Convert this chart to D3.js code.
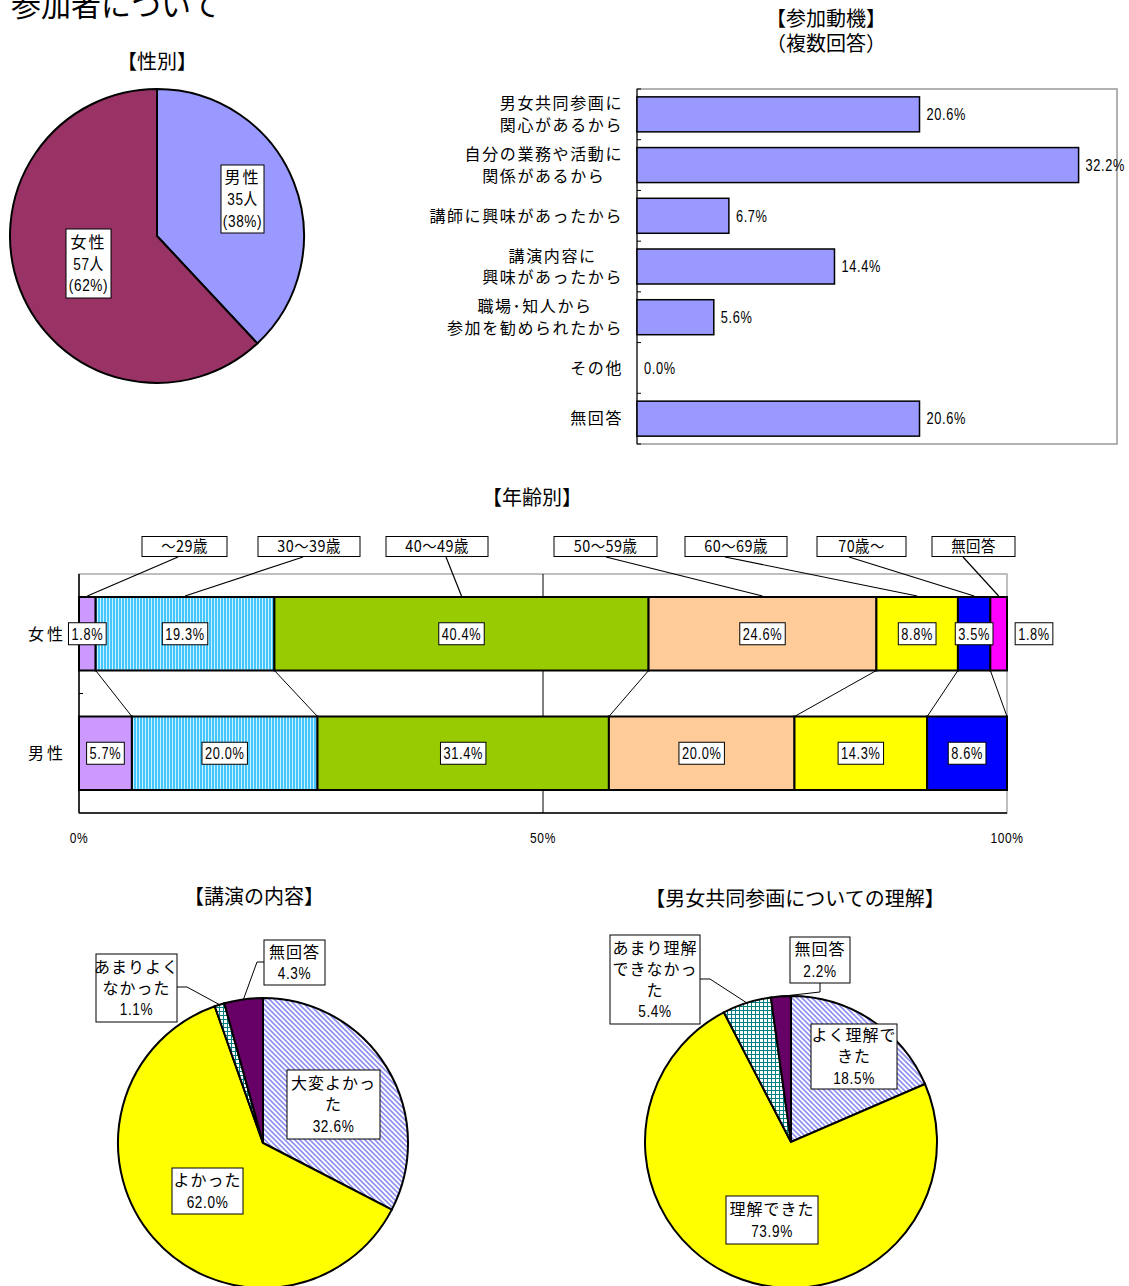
<!DOCTYPE html>
<html>
<head>
<meta charset="utf-8">
<script src="https://cdn.jsdelivr.net/npm/d3@7"></script>
<style>
    body { margin: 0; background: #fff; }
    svg text { font-family: "Noto Sans CJK JP", sans-serif; fill: #000; }
    svg text.num { font-family: "Liberation Sans", "Noto Sans CJK JP", sans-serif; }
</style>
</head>
<body>
<div id="chart"></div>
<script>

// ---- data ----
const genderLabels = ["男性", "女性"];
const genderCounts = [35, 57];
const genderPct = [38, 62];

const motiveCats = ["男女共同参画に\n関心があるから", "自分の業務や活動に\n関係があるから", "講師に興味があったから",
    "講演内容に\n興味があったから", "職場･知人から\n参加を勧められたから", "その他", "無回答"];
const motiveVals = [20.6, 32.2, 6.7, 14.4, 5.6, 0.0, 20.6];

const ageGroups = ["～29歳", "30～39歳", "40～49歳", "50～59歳", "60～69歳", "70歳～", "無回答"];
const ageRows = ["女性", "男性"];
const ageFemale = [1.8, 19.3, 40.4, 24.6, 8.8, 3.5, 1.8];
const ageMale = [5.7, 20.0, 31.4, 20.0, 14.3, 8.6, 0];
const ageTicks = [0, 50, 100];

const lectureCats = ["大変よかった", "よかった", "あまりよくなかった", "無回答"];
const lectureVals = [32.6, 62.0, 1.1, 4.3];

const understandCats = ["よく理解できた", "理解できた", "あまり理解できなかった", "無回答"];
const understandVals = [18.5, 73.9, 5.4, 2.2];

// ---- svg ----
const W = 1129, H = 1286;
const NARROW = 0.8;
const svg = d3.select("#chart").append("svg")
    .attr("width", W)
    .attr("height", H);

const defs = svg.append("defs");

// diagonal stripes (大変よかった etc)
let p = defs.append("pattern").attr("id", "diag")
    .attr("patternUnits", "userSpaceOnUse").attr("width", 5).attr("height", 5);
p.append("rect").attr("width", 5).attr("height", 5).attr("fill", "#fff");
p.append("path").attr("d", "M-1,4 l2,2 M0,0 l5,5 M4,-1 l2,2")
    .attr("stroke", "#8f8ff0").attr("stroke-width", 1.6);

// vertical stripes (30～39歳)
p = defs.append("pattern").attr("id", "vstripe")
    .attr("patternUnits", "userSpaceOnUse").attr("width", 3).attr("height", 4);
p.append("rect").attr("width", 3).attr("height", 4).attr("fill", "#45c6ff");
p.append("rect").attr("x", 1).attr("width", 1).attr("height", 4).attr("fill", "#c8f2ff");

// teal grid (あまり...)
p = defs.append("pattern").attr("id", "grid")
    .attr("patternUnits", "userSpaceOnUse").attr("width", 4).attr("height", 4);
p.append("rect").attr("width", 4).attr("height", 4).attr("fill", "#fff");
p.append("path").attr("d", "M0,0.5 H4 M0.5,0 V4").attr("stroke", "#008080").attr("stroke-width", 1);

// narrow text for numbers (the original font has tall thin digits)
function numText(g, x, y, txt, fs, anchor) {
    return g.append("text").attr("class", "num")
        .attr("transform", `translate(${x},${y}) scale(${NARROW},1)`)
        .attr("dy", "0.36em")
        .attr("text-anchor", anchor || "middle")
        .style("font-size", fs + "px")
        .style("letter-spacing", "0.8px")
        .text(txt);
}

// helper: boxed multi-line label, one text per line
function labelBox(g, cx, cy, lines, o) {
    const fs = o.fs || 16, lh = o.lh || 21;
    const grp = g.append("g");
    const rect = grp.append("rect");
    let wMax = 0;
    lines.forEach((l, i) => {
        const ly = cy + (i - (lines.length - 1) / 2) * lh;
        let t;
        if (/^[\d(]/.test(l)) {
            t = numText(grp, cx, ly, l, fs + 1);
            wMax = Math.max(wMax, t.node().getComputedTextLength() * NARROW);
        } else {
            t = grp.append("text")
                .attr("x", cx).attr("y", ly).attr("dy", "0.36em")
                .attr("text-anchor", "middle")
                .style("font-size", fs + "px")
                .style("letter-spacing", (o.ls || 0) + "px")
                .text(l);
            wMax = Math.max(wMax, t.node().getComputedTextLength());
        }
    });
    const w = o.w || wMax + 6, h = o.h || lines.length * lh + 2;
    rect.attr("x", cx - w / 2).attr("y", cy - h / 2)
        .attr("width", w).attr("height", h)
        .attr("fill", "#fff").attr("stroke", "#000").attr("stroke-width", 1);
}

function title(x, y, txt, fs) {
    svg.append("text")
        .attr("x", x).attr("y", y)
        .attr("text-anchor", "middle")
        .style("font-size", (fs || 20) + "px")
        .text(txt);
}

// page heading (cut off at top)
svg.append("text")
    .attr("x", 11).attr("y", 16)
    .style("font-size", "30px")
    .text("参加者について");

// ---- 性別 pie ----
title(157, 69, "【性別】");
{
    const cx = 157, cy = 236, r = 147;
    const g = svg.append("g").attr("transform", `translate(${cx},${cy})`);
    const arcs = d3.pie().sort(null)(genderCounts);
    const arc = d3.arc().innerRadius(0).outerRadius(r);
    const fills = ["#9999ff", "#993366"];
    g.selectAll("path").data(arcs).enter().append("path")
        .attr("d", arc)
        .attr("fill", (d, i) => fills[i])
        .attr("stroke", "#000").attr("stroke-width", 2);

    const boxes = [{x: 242.5, y: 199, w: 43, h: 68}, {x: 88.5, y: 263.5, w: 45, h: 69}];
    genderLabels.forEach((lab, i) => {
        labelBox(svg, boxes[i].x, boxes[i].y,
            [lab, genderCounts[i] + "人", "(" + genderPct[i] + "%)"],
            {fs: 16, lh: 21.5, w: boxes[i].w, h: boxes[i].h, ls: 2});
    });
}

// ---- 参加動機 bar ----
title(826, 26, "【参加動機】");
title(826, 51, "（複数回答）");
{
    const left = 637, right = 1117, top = 89, bottom = 444;
    const x = d3.scaleLinear().domain([0, 35]).range([left, right]);
    const y = d3.scaleBand().domain(motiveCats).range([top, bottom])
        .paddingInner(0.31).paddingOuter(0.155);

    svg.append("rect")
        .attr("x", left).attr("y", top)
        .attr("width", right - left).attr("height", bottom - top)
        .attr("fill", "none").attr("stroke", "#999").attr("stroke-width", 1.5);
    svg.append("line")
        .attr("x1", left).attr("x2", left).attr("y1", top).attr("y2", bottom)
        .attr("stroke", "#000").attr("stroke-width", 1);
    // ticks at category boundaries
    d3.range(motiveCats.length + 1).forEach(i => {
        const ty = top + i * y.step();
        svg.append("line")
            .attr("x1", left).attr("x2", left + 4).attr("y1", ty).attr("y2", ty)
            .attr("stroke", "#000");
    });

    svg.selectAll(".mbar").data(motiveVals.map((v, i) => ({c: motiveCats[i], v: v})).filter(d => d.v > 0))
        .enter().append("rect").attr("class", "mbar")
        .attr("x", x(0))
        .attr("y", d => y(d.c))
        .attr("width", d => x(d.v) - x(0))
        .attr("height", y.bandwidth())
        .attr("fill", "#9999ff")
        .attr("stroke", "#000").attr("stroke-width", 1.5);

    motiveCats.forEach((c, i) => {
        const cy = y(c) + y.bandwidth() / 2;
        numText(svg, x(motiveVals[i]) + 7, cy, motiveVals[i].toFixed(1) + "%", 16, "start");

        const lines = c.split("\n");
        const t = svg.append("text")
            .attr("text-anchor", "middle")
            .style("font-size", "16px").style("letter-spacing", "1.6px");
        lines.forEach((l, k) => {
            t.append("tspan").attr("y", cy + (k - (lines.length - 1) / 2) * 21.5)
                .attr("dy", "0.36em").text(l);
        });
        const wMax = d3.max(t.selectAll("tspan").nodes(), n => n.getComputedTextLength());
        t.selectAll("tspan").attr("x", 623 - wMax / 2);
    });
}

// ---- 年齢別 stacked bar ----
title(532, 505, "【年齢別】");
{
    const left = 79, right = 1007, top = 574, bottom = 813;
    const x = d3.scaleLinear().domain([0, 100]).range([left, right]);
    const y = d3.scaleBand().domain(ageRows).range([top, bottom])
        .paddingInner(0.385).paddingOuter(0.1925);
    const fills = ["#cc99ff", "url(#vstripe)", "#99cc00", "#ffcc99", "#ffff00", "#0000ff", "#ff00ff"];

    svg.append("rect")
        .attr("x", left).attr("y", top)
        .attr("width", right - left).attr("height", bottom - top)
        .attr("fill", "none").attr("stroke", "#aaa").attr("stroke-width", 1.5);
    svg.append("line").attr("x1", x(50)).attr("x2", x(50)).attr("y1", top).attr("y2", bottom)
        .attr("stroke", "#000").attr("stroke-width", 1);
    svg.append("line").attr("x1", left).attr("x2", left).attr("y1", top).attr("y2", bottom)
        .attr("stroke", "#000").attr("stroke-width", 1.5);
    svg.append("line").attr("x1", left).attr("x2", right).attr("y1", bottom).attr("y2", bottom)
        .attr("stroke", "#000").attr("stroke-width", 1.5);
    const midY = (y("女性") + y.bandwidth() + y("男性")) / 2;
    svg.append("line").attr("x1", left).attr("x2", left + 4)
        .attr("y1", midY).attr("y2", midY)
        .attr("stroke", "#000");

    ageTicks.forEach(t => {
        numText(svg, x(t), 838, t + "%", 15);
    });

    const rows = [ageFemale, ageMale].map((vals, r) => {
        const tot = d3.sum(vals);
        let acc = 0;
        return vals.map((v, i) => {
            const s = {row: ageRows[r], i: i, v: v, x0: acc / tot * 100};
            acc += v;
            s.x1 = acc / tot * 100;
            return s;
        });
    });

    // series lines between the two bars
    for (let i = 0; i < ageGroups.length - 1; i++) {
        svg.append("line")
            .attr("x1", x(rows[0][i].x1)).attr("y1", y("女性") + y.bandwidth())
            .attr("x2", x(rows[1][i].x1)).attr("y2", y("男性"))
            .attr("stroke", "#000").attr("stroke-width", 1);
    }

    rows.forEach(row => {
        svg.selectAll(null).data(row.filter(d => d.v > 0)).enter().append("rect")
            .attr("x", d => x(d.x0))
            .attr("y", d => y(d.row))
            .attr("width", d => x(d.x1) - x(d.x0))
            .attr("height", y.bandwidth())
            .attr("fill", d => fills[d.i])
            .attr("stroke", "#000").attr("stroke-width", 2);
    });

    rows.forEach(row => {
        row.filter(d => d.v > 0).forEach(d => {
            let cx = x((d.x0 + d.x1) / 2);
            if (d.row === "女性" && d.i === ageGroups.length - 1) cx = x(100) + 27;
            labelBox(svg, cx, y(d.row) + y.bandwidth() / 2, [d.v.toFixed(1) + "%"],
                {fs: 15, h: 22});
        });
    });

    // callout boxes above
    const boxX = [184.5, 309, 437, 605.5, 736, 861.5, 973.5];
    const boxW = [85, 102, 102, 103, 102, 89, 83];
    const leadX = [178, 303, 446, 606, 725, 849, 963];
    ageGroups.forEach((gName, i) => {
        const seg = rows[0][i];
        svg.append("line")
            .attr("x1", leadX[i]).attr("y1", 557)
            .attr("x2", x((seg.x0 + seg.x1) / 2)).attr("y2", y("女性") - 1)
            .attr("stroke", "#000").attr("stroke-width", 1.2);
        svg.append("rect")
            .attr("x", boxX[i] - boxW[i] / 2).attr("y", 536.5)
            .attr("width", boxW[i]).attr("height", 20)
            .attr("fill", "#fff").attr("stroke", "#000");
        svg.append("text")
            .attr("transform", `translate(${boxX[i]},546.5) scale(0.9,1)`)
            .attr("dy", "0.36em").attr("text-anchor", "middle")
            .style("font-size", "16px").style("letter-spacing", "0.5px")
            .text(gName);
    });

    ageRows.forEach(rn => {
        svg.append("text")
            .attr("x", 47).attr("y", y(rn) + y.bandwidth() / 2).attr("dy", "0.36em")
            .attr("text-anchor", "middle")
            .style("font-size", "16px").style("letter-spacing", "3px")
            .text(rn);
    });
}

// ---- bottom pies ----
const pieFills = ["url(#diag)", "#ffff00", "url(#grid)", "#660066"];

function drawPie(cx, cy, r, vals, labels) {
    const g = svg.append("g").attr("transform", `translate(${cx},${cy})`);
    const arcs = d3.pie().sort(null)(vals);
    const arc = d3.arc().innerRadius(0).outerRadius(r);
    g.selectAll("path").data(arcs).enter().append("path")
        .attr("d", arc)
        .attr("fill", (d, i) => pieFills[i])
        .attr("stroke", "#000").attr("stroke-width", 2);

    labels.forEach((lb, i) => {
        if (lb.lead) {
            const a = (arcs[i].startAngle + arcs[i].endAngle) / 2;
            const ex = cx + r * Math.sin(a), ey = cy - r * Math.cos(a);
            svg.append("polyline")
                .attr("points", lb.lead.map(pt => pt.join(",")).join(" ") + " " + ex + "," + ey)
                .attr("fill", "none").attr("stroke", "#000").attr("stroke-width", 1);
        }
        labelBox(svg, lb.x, lb.y, lb.lines.concat([vals[i].toFixed(1) + "%"]),
            {fs: 16, lh: 21, w: lb.w, h: lb.h, ls: 1});
    });
}

title(254, 904, "【講演の内容】");
drawPie(263, 1143, 145, lectureVals, [
    {x: 333.5, y: 1104.5, w: 93, h: 69, lines: ["大変よかっ", "た"]},
    {x: 207.5, y: 1191, w: 71, h: 46, lines: ["よかった"]},
    {x: 136.5, y: 988, w: 81, h: 68, lines: ["あまりよく", "なかった"], lead: [[177, 987], [187, 987]]},
    {x: 294.5, y: 962.5, w: 61, h: 45, lines: ["無回答"], lead: [[264, 962], [257, 962]]}
]);

title(795, 906, "【男女共同参画についての理解】");
drawPie(791, 1142, 146, understandVals, [
    {x: 854, y: 1056.5, w: 86, h: 65, lines: ["よく理解で", "きた"]},
    {x: 772, y: 1220, w: 92, h: 48, lines: ["理解できた"]},
    {x: 655, y: 979.5, w: 90, h: 89, lines: ["あまり理解", "できなかっ", "た"], lead: [[700, 979], [710, 979]]},
    {x: 820, y: 960, w: 60, h: 46, lines: ["無回答"], lead: [[820, 983], [820, 992]]}
]);

</script>
</body>
</html>
